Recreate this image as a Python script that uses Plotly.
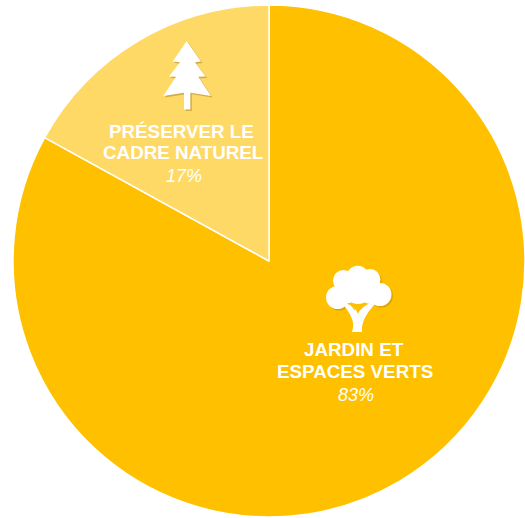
import plotly.graph_objects as go

W, H = 525, 518
categories = ["JARDIN ET ESPACES VERTS", "PRÉSERVER LE CADRE NATUREL"]
values = [83, 17]
colors = ["#FFC000", "#FFD966"]
label_lines = [["JARDIN ET", "ESPACES VERTS"], ["PRÉSERVER LE", "CADRE NATUREL"]]
percent_labels = ["83%", "17%"]

def px(x): return x / W
def py(y): return 1 - y / H
def poly(pts):
    return "M" + " L".join(f"{px(x):.5f},{py(y):.5f}" for x, y in pts) + " Z"
def curve(start, segs, close=True):
    s = f"M{px(start[0]):.5f},{py(start[1]):.5f}"
    for seg in segs:
        s += " C" + " ".join(f"{px(x):.5f},{py(y):.5f}" for x, y in seg)
    return s + (" Z" if close else "")

FIR = [(186.7,41),(201,61.5),(195,62.3),(205.7,76.5),(198.3,76.7),(211,96),(190.3,92.7),(190.3,109.5),
       (184,109.5),(184,92.7),(163.3,96),(176,76.7),(169,76.5),(180,62.3),(172.7,61.5)]
CROWN = [(357.7,276.5,10.8),(343.5,280.5,10.5),(370,279.5,10.5),(337.5,297.5,11.5),(380,294.5,11.5),
         (358,290,14),(346,294,10),(370,294,10)]
TRUNK = curve((352,332), [[(354.5,324),(354,318),(342,303)], [(350,303),(356,308),(358,314)],
              [(360,308),(368,303),(378,300)], [(372,308),(361,318),(362,332)]])
BRANCH_GAPS = [[(351,305),(355,310)], [(356.5,304),(357,310)], [(364,304),(360.5,309)]]

shapes = []
shadow = "rgba(110,70,0,0.30)"
def circle(c, r, color):
    return dict(type="circle", xref="paper", yref="paper", x0=px(c[0]-r), x1=px(c[0]+r),
                y0=py(c[1]+r), y1=py(c[1]-r), fillcolor=color, line_width=0)

# shadows
shapes.append(dict(type="path", xref="paper", yref="paper",
                   path=poly([(x+1.5, y+1.5) for x, y in FIR]), fillcolor=shadow, line_width=0))
for x, y, r in CROWN[:5]:
    shapes.append(circle((x+1.5, y+1.5), r, "rgba(110,70,0,0.22)"))
# icons
shapes.append(dict(type="path", xref="paper", yref="paper", path=poly(FIR), fillcolor="white", line_width=0))
for x, y, r in CROWN:
    shapes.append(circle((x, y), r, "white"))
shapes.append(dict(type="path", xref="paper", yref="paper", path=TRUNK, fillcolor="white", line_width=0))
for a, b in BRANCH_GAPS:
    shapes.append(dict(type="line", xref="paper", yref="paper", x0=px(a[0]), y0=py(a[1]), x1=px(b[0]), y1=py(b[1]),
                       line=dict(color="#FFC000", width=1.2)))

fig = go.Figure(go.Pie(
    labels=categories, values=values, sort=False, direction="clockwise", rotation=0,
    marker=dict(colors=colors, line=dict(color="white", width=1.5)),
    textinfo="none", hoverinfo="label+percent",
    domain=dict(x=[px(13), px(525)], y=[py(517), py(5)]),
))

FONT = "Liberation Sans"
annots = []
positions = [((354, 349), (355, 371), (356, 395)), ((181, 132), (183, 153), (184, 176))]
for lines, pct, pos in zip(label_lines, percent_labels, positions):
    for t, (x, y) in zip(lines, pos[:2]):
        annots.append(dict(text=f"<b>{t}</b>", x=px(x), y=py(y), xref="paper", yref="paper",
                           showarrow=False, xanchor="center", yanchor="middle",
                           font=dict(family=FONT, size=18.8, color="white")))
    annots.append(dict(text=f"<i>{pct}</i>", x=px(pos[2][0]), y=py(pos[2][1]), xref="paper", yref="paper",
                       showarrow=False, xanchor="center", yanchor="middle",
                       font=dict(family=FONT, size=18, color="white")))

fig.update_layout(width=W, height=H, margin=dict(l=0, r=0, t=0, b=0), showlegend=False,
                  paper_bgcolor="white", shapes=shapes, annotations=annots)
fig.write_html("out.html", config=dict(displayModeBar=False),
               post_script="document.body.style.margin='0';document.documentElement.style.overflow='hidden';")
